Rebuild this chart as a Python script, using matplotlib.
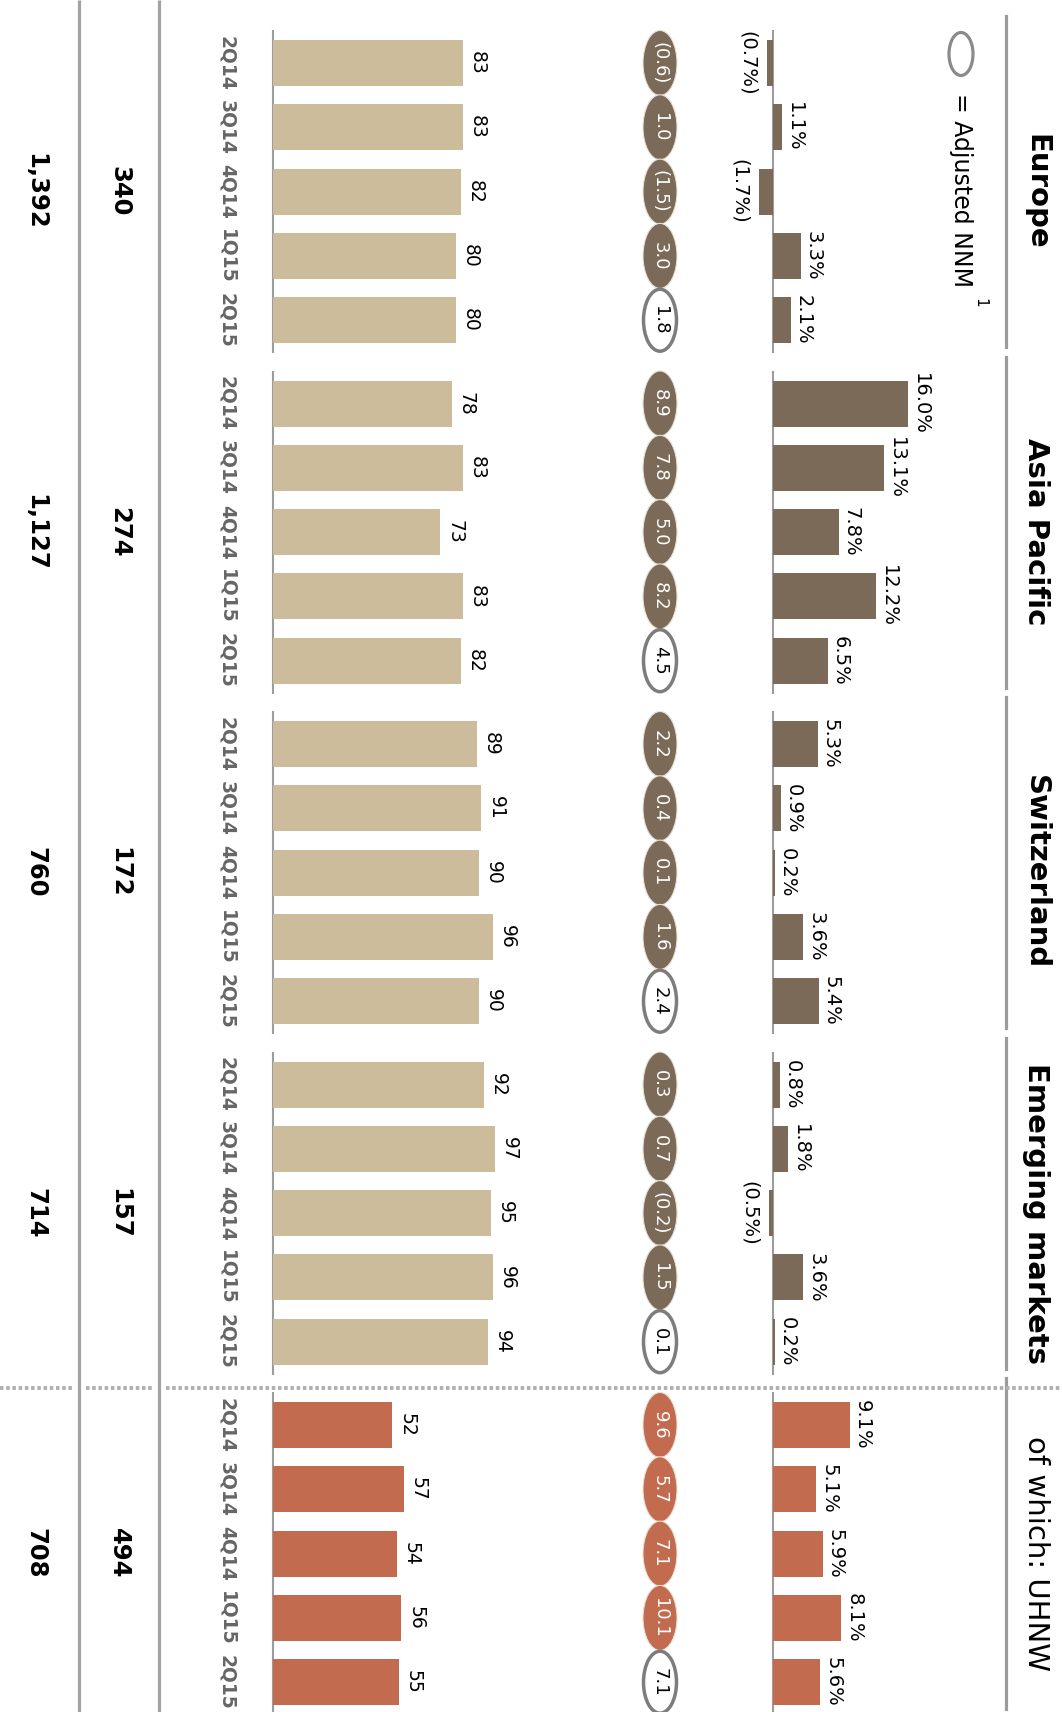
import matplotlib.pyplot as plt
from matplotlib.patches import Ellipse

# values (sections run top to bottom)
quarters = ['2Q14', '3Q14', '4Q14', '1Q15', '2Q15']
regions = ['Europe', 'Asia Pacific', 'Switzerland', 'Emerging markets', 'of which: UHNW']
invested_assets = [1392, 1127, 760, 714, 708]
client_advisors = [340, 274, 172, 157, 494]

gross_margin = [
    [83, 83, 82, 80, 80],
    [78, 83, 73, 83, 82],
    [89, 91, 90, 96, 90],
    [92, 97, 95, 96, 94],
    [52, 57, 54, 56, 55],
]
nnm_growth = [
    [-0.7, 1.1, -1.7, 3.3, 2.1],
    [16.0, 13.1, 7.8, 12.2, 6.5],
    [5.3, 0.9, 0.2, 3.6, 5.4],
    [0.8, 1.8, -0.5, 3.6, 0.2],
    [9.1, 5.1, 5.9, 8.1, 5.6],
]
adj_nnm_growth = [
    [-0.6, 1.0, -1.5, 3.0, 1.8],
    [8.9, 7.8, 5.0, 8.2, 4.5],
    [2.2, 0.4, 0.1, 1.6, 2.4],
    [0.3, 0.7, -0.2, 1.5, 0.1],
    [9.6, 5.7, 7.1, 10.1, 7.1],
]

TAN = '#cdbc9b'
BROWN = '#7b6a57'
RUST = '#c26b4f'
GREY = '#9c9c9c'

W, H = 1062, 1712
Y0, SEC, STEP, BAR_H = 63, 340.5, 64.3, 46
GM_X0, GM_SCALE = 273, 2.29
NNM_X0, NNM_SCALE = 773, 8.45
ELL_X = 660
ROT = dict(rotation=-90, rotation_mode='anchor')


def pct(v):
    return f'({abs(v):.1f}%)' if v < 0 else f'{v:.1f}%'


def num(v):
    return f'({abs(v):.1f})' if v < 0 else f'{v:.1f}'


fig = plt.figure(figsize=(W / 100, H / 100), dpi=100)

# layout axes in pixel units for lines, labels and the ovals
ax = fig.add_axes([0, 0, 1, 1])
ax.set_xlim(0, W)
ax.set_ylim(H, 0)
ax.axis('off')

ax_gm = fig.add_axes([GM_X0 / W, 0, (W - GM_X0) / W, 1])
ax_gm.set_xlim(0, (W - GM_X0) / GM_SCALE)
ax_gm.set_ylim(H, 0)
ax_gm.axis('off')
ax_gm.patch.set_visible(False)

ax_nnm = fig.add_axes([0, 0, 1, 1])
ax_nnm.set_xlim(-NNM_X0 / NNM_SCALE, (W - NNM_X0) / NNM_SCALE)
ax_nnm.set_ylim(H, 0)
ax_nnm.axis('off')
ax_nnm.patch.set_visible(False)

# column rules
for x in (79, 159):
    ax.plot([x, x], [0, H], color='#a3a3a3', lw=2.3, solid_capstyle='butt')

for s, region in enumerate(regions):
    ys = [Y0 + s * SEC + q * STEP for q in range(len(quarters))]
    mid = (ys[0] + ys[-1]) / 2
    uhnw = s == len(regions) - 1
    gm_col = RUST if uhnw else TAN
    nnm_col = RUST if uhnw else BROWN
    top = ys[0] - BAR_H / 2
    bot = ys[-1] + BAR_H / 2

    ax_gm.barh(ys, gross_margin[s], height=BAR_H, color=gm_col)
    ax_nnm.barh(ys, nnm_growth[s], height=BAR_H, color=nnm_col)

    ax.plot([GM_X0, GM_X0], [top - 9, bot + 9], color=GREY, lw=1.5)
    ax.plot([NNM_X0, NNM_X0], [top - 9, bot + 9], color=GREY, lw=1.5)
    ax.plot([1006, 1006], [top - 24, bot + 4], color=GREY, lw=2.3)

    ax.text(1036, mid, region, ha='center', va='center', fontsize=21,
            fontweight='normal' if uhnw else 'bold', **ROT)
    ax.text(35, mid, f'{invested_assets[s]:,}', ha='center', va='center',
            fontsize=17.5, fontweight='bold', **ROT)
    ax.text(119, mid, f'{client_advisors[s]:,}', ha='center', va='center',
            fontsize=17.5, fontweight='bold', **ROT)

    for q, y in enumerate(ys):
        ax.text(227, y, quarters[q], ha='center', va='center', fontsize=13.5,
                fontweight='bold', color='#666666', **ROT)
        ax_gm.annotate(f'{gross_margin[s][q]}', (gross_margin[s][q], y),
                       xytext=(6.5, 0), textcoords='offset points',
                       ha='center', va='baseline', fontsize=13.5, **ROT)
        v = nnm_growth[s][q]
        if v >= 0:
            ax_nnm.annotate(pct(v), (v, y), xytext=(5, 0), textcoords='offset points',
                            ha='center', va='baseline', fontsize=14, **ROT)
        else:
            ax_nnm.annotate(pct(v), (v, y), xytext=(-7, 0), textcoords='offset points',
                            ha='center', va='top', fontsize=14, **ROT)

        last = q == len(quarters) - 1
        if last:
            ax.add_patch(Ellipse((ELL_X, y), 33, 62, facecolor='white',
                                 edgecolor='#7d7d7d', lw=2.5, zorder=3))
            tc = 'black'
        else:
            ax.add_patch(Ellipse((ELL_X, y), 34, 65, facecolor=nnm_col,
                                 edgecolor='#e8e0d6', lw=0.8, zorder=3))
            tc = 'white'
        ax.text(ELL_X, y, num(adj_nnm_growth[s][q]), ha='center', va='center',
                fontsize=13, color=tc, zorder=4, **ROT)

# dotted separator before the UHNW block
sep = (Y0 + 3 * SEC + 4 * STEP + BAR_H / 2 + Y0 + 4 * SEC - BAR_H / 2) / 2 + 5
for x0, x1 in [(0, 72), (86, 152), (166, W)]:
    ax.plot([x0, x1], [sep, sep], color='#b0b0b0', lw=2.8, linestyle=(0, (0.9, 0.7)))

# legend for the oval
ax.add_patch(Ellipse((961, 54), 24, 43, facecolor='white', edgecolor='#8a8a8a', lw=2.3))
ax.text(961, 93, '= Adjusted NNM', ha='left', va='center', fontsize=17, **ROT)
ax.text(980, 298, '1', ha='left', va='center', fontsize=11, **ROT)

fig.savefig('out.png', dpi=100)
